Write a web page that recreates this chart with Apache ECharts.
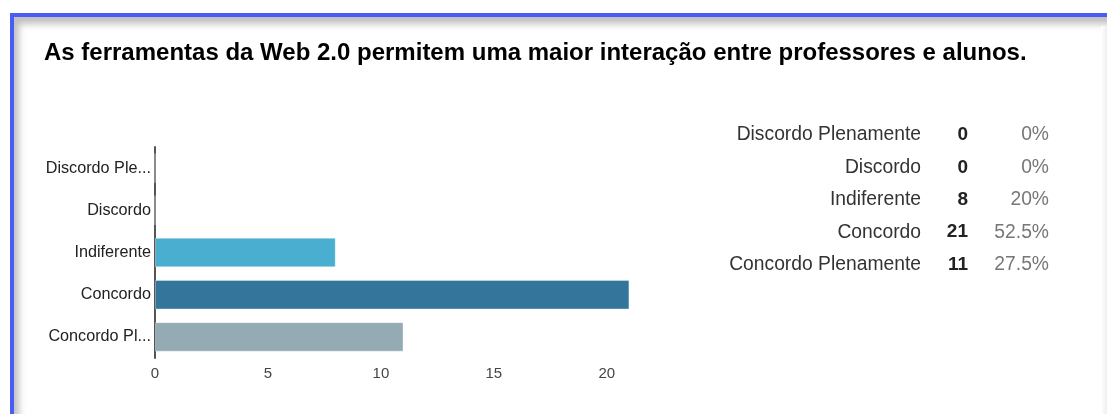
<!DOCTYPE html>
<html><head><meta charset="utf-8">
<script src="https://cdn.jsdelivr.net/npm/echarts@6/dist/echarts.min.js"></script>
<style>
html,body{margin:0;padding:0;background:#fff;width:1107px;height:414px;overflow:hidden}
#frame{position:absolute;left:10px;top:13px;width:1097px;height:401px;border-top:4px solid #4a5cf6;border-left:4px solid #4a5cf6;box-sizing:border-box;box-shadow:inset 8px 10px 7px -3px rgba(0,0,0,0.25)}
#frame2{position:absolute;right:0;top:26px;width:6px;height:388px;background:linear-gradient(to right,#fff,#eee)}
#chart{position:absolute;left:0;top:0;width:1107px;height:414px}
</style></head>
<body>
<div id="frame"></div><div id="frame2"></div>
<div id="chart"></div>
<script>
var titleText = 'As ferramentas da Web 2.0 permitem uma maior interação entre professores e alunos.';
var categories = ['Discordo Plenamente','Discordo','Indiferente','Concordo','Concordo Plenamente'];
var tickLabels = ['Discordo Ple...','Discordo','Indiferente','Concordo','Concordo Pl...'];
var counts = [0, 0, 8, 21, 11];
var percents = ['0%','0%','20%','52.5%','27.5%'];
var barColors = ['#4bafd0','#4bafd0','#4aaed0','#34769b','#95abb3'];

var FONT = '"Liberation Sans", Arial, sans-serif';
var chart = echarts.init(document.getElementById('chart'), null, {renderer:'canvas'});
var graphics = [];
for (var i = 0; i < categories.length; i++) {
  var y = 136.5 + i * 32.4;
  graphics.push({type:'text', right:1107-921, top:y-11, style:{text:categories[i], font:'19.3px ' + FONT, fill:'#333', textAlign:'right'}});
  graphics.push({type:'text', right:1107-968, top:y-11, style:{text:String(counts[i]), font:'bold 19px ' + FONT, fill:'#222', textAlign:'right'}});
  graphics.push({type:'text', right:1107-1049, top:y-11, style:{text:percents[i], font:'19.3px ' + FONT, fill:'#777', textAlign:'right'}});
}
chart.setOption({
  animation:false,
  backgroundColor:'transparent',
  title:{text:titleText, left:39, top:36, textStyle:{fontFamily:FONT, fontSize:24, fontWeight:'bold', color:'#000'}},
  grid:{left:155, top:147, width:497, height:211, containLabel:false},
  xAxis:{type:'value', min:0, max:22, interval:5,
    axisLine:{show:false}, axisTick:{show:false}, splitLine:{show:false},
    axisLabel:{showMaxLabel:false, color:'#444', fontSize:15, margin:8, fontFamily:FONT}},
  yAxis:{type:'category', data:categories, inverse:true,
    axisLine:{show:true, lineStyle:{color:'#555', width:2}}, axisTick:{show:false},
    axisLabel:{color:'#222', fontSize:16.2, margin:4, fontFamily:FONT,
      formatter:function(v, idx){ return tickLabels[idx]; }}},
  series:[{type:'bar', barWidth:'70%',
    data:counts.map(function(v,i){return {value:v, itemStyle:{color:barColors[i], borderColor:'rgba(255,255,255,0.35)', borderWidth:1}};})}],
  graphic:graphics
});
</script>
</body></html>
